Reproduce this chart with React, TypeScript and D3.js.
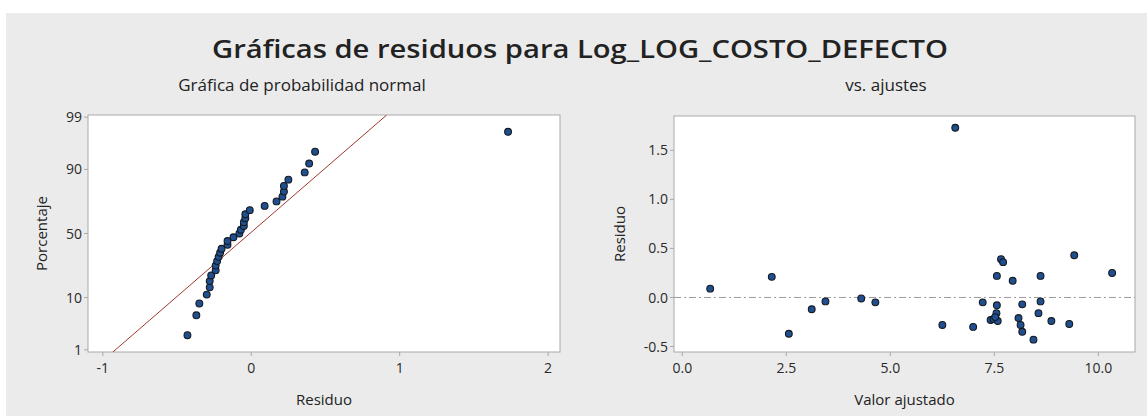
import React from "react";
import * as d3 from "d3";

// ---- Data ----
const fittedValues: number[] = [
  0.67, 2.15, 2.56, 3.11, 3.44, 4.30, 4.64, 6.56, 6.25, 6.99, 7.22,
  7.56, 7.66, 7.71, 7.56, 7.55, 7.41, 7.48, 7.58, 7.52, 7.94, 8.17,
  8.08, 8.13, 8.17, 8.44, 8.61, 8.61, 8.56, 8.87, 9.30, 9.42, 10.33,
];
const residuals: number[] = [
  0.09, 0.21, -0.37, -0.12, -0.04, -0.01, -0.05, 1.73, -0.28, -0.30, -0.05,
  0.22, 0.39, 0.36, -0.08, -0.16, -0.23, -0.22, -0.24, -0.20, 0.17, -0.07,
  -0.21, -0.28, -0.35, -0.43, 0.22, -0.04, -0.16, -0.24, -0.27, 0.43, 0.25,
];
const probTicks: number[] = [1, 10, 50, 90, 99];
const residXTicks: number[] = [-1, 0, 1, 2];
const fitXTicks: number[] = [0, 2.5, 5, 7.5, 10];
const residYTicks: number[] = [-0.5, 0, 0.5, 1, 1.5];

const TITLE = "Gráficas de residuos para Log_LOG_COSTO_DEFECTO";
const SUB_LEFT = "Gráfica de probabilidad normal";
const SUB_RIGHT = "vs. ajustes";

// inverse standard normal CDF (Acklam)
function invNorm(p: number): number {
  const a = [-39.69683028665376, 220.9460984245205, -275.9285104469687, 138.357751867269, -30.66479806614716, 2.506628277459239];
  const b = [-54.47609879822406, 161.5858368580409, -155.6989798598866, 66.80131188771972, -13.28068155288572];
  const c = [-0.007784894002430293, -0.3223964580411365, -2.400758277161838, -2.549732539343734, 4.374664141464968, 2.938163982698783];
  const d = [0.007784695709041462, 0.3224671290700398, 2.445134137142996, 3.754408661907416];
  const pl = 0.02425;
  if (p < pl) {
    const q = Math.sqrt(-2 * Math.log(p));
    return (((((c[0] * q + c[1]) * q + c[2]) * q + c[3]) * q + c[4]) * q + c[5]) / ((((d[0] * q + d[1]) * q + d[2]) * q + d[3]) * q + 1);
  }
  if (p > 1 - pl) {
    const q = Math.sqrt(-2 * Math.log(1 - p));
    return -(((((c[0] * q + c[1]) * q + c[2]) * q + c[3]) * q + c[4]) * q + c[5]) / ((((d[0] * q + d[1]) * q + d[2]) * q + d[3]) * q + 1);
  }
  const q = p - 0.5;
  const r = q * q;
  return ((((((a[0] * r + a[1]) * r + a[2]) * r + a[3]) * r + a[4]) * r + a[5]) * q) / (((((b[0] * r + b[1]) * r + b[2]) * r + b[3]) * r + b[4]) * r + 1);
}

const FONT = "'Open Sans', 'Noto Sans', sans-serif";
const fmtNum = (v: number, dec: number) => v.toFixed(dec);

export default function App() {
  const W = 1147;
  const H = 416;
  const L = { left: 88, right: 560, top: 115, bottom: 352 };
  const R = { left: 674, right: 1135, top: 116, bottom: 352 };

  const xN = d3.scaleLinear().domain([-1.1, 2.08]).range([L.left, L.right]);
  const yN = d3.scaleLinear().domain([-2.37, 2.37]).range([L.bottom, L.top]);
  const xF = d3.scaleLinear().domain([-0.2, 10.88]).range([R.left, R.right]);
  const yF = d3.scaleLinear().domain([-0.556, 1.85]).range([R.bottom, R.top]);

  const n = residuals.length;
  const sorted = residuals.slice().sort(d3.ascending);
  const probPts = sorted.map((r, i) => ({ r, z: invNorm((i + 1 - 0.3) / (n + 0.4)) }));
  const mean = d3.mean(residuals) as number;
  const sd = d3.deviation(residuals) as number;
  const [z0, z1] = yN.domain();
  const refLine = d3.line<[number, number]>()
    .x((d) => xN(d[0]))
    .y((d) => yN(d[1]))([
      [mean + sd * z0, z0],
      [mean + sd * z1, z1],
    ]);

  const ptFill = "#1f4f8f";
  const ptStroke = "#14181f";
  const tickColor = "#2a2a2a";
  const frame = "#a9a9a9";
  const tickFs = 14;
  const labFs = 15;

  return (
    <div style={{ position: "fixed", left: 0, top: 0 }}>
      <svg width={W} height={H} style={{ display: "block" }}>
        <defs>
          <clipPath id="clipL">
            <rect x={L.left} y={L.top} width={L.right - L.left} height={L.bottom - L.top} />
          </clipPath>
        </defs>
        <rect x={0} y={0} width={W} height={H} fill="#ffffff" />
        <rect x={6} y={13} width={W - 6} height={H - 13} fill="#ebebeb" />

        <text x={580} y={58} textAnchor="middle" fontFamily={FONT} fontWeight={600} fontSize={26}
          fill="#222" textLength={736} lengthAdjust="spacingAndGlyphs">{TITLE}</text>
        <text x={302} y={91} textAnchor="middle" fontFamily={FONT} fontSize={17}
          fill="#222">{SUB_LEFT}</text>
        <text x={886} y={91} textAnchor="middle" fontFamily={FONT} fontSize={17}
          fill="#222">{SUB_RIGHT}</text>

        {/* ---- Left panel: normal probability plot ---- */}
        <rect x={L.left} y={L.top} width={L.right - L.left} height={L.bottom - L.top} fill="#fff" stroke={frame} strokeWidth={1} />
        {probTicks.map((p) => {
          const y = yN(invNorm(p / 100));
          return (
            <g key={"py" + p}>
              <line x1={L.left - 4} x2={L.left} y1={y} y2={y} stroke={frame} />
              <text x={L.left - 6} y={y} dy="0.36em" textAnchor="end" fontFamily={FONT} fontSize={tickFs} fill={tickColor}>{p}</text>
            </g>
          );
        })}
        {residXTicks.map((t) => {
          const x = xN(t);
          return (
            <g key={"px" + t}>
              <line x1={x} x2={x} y1={L.bottom} y2={L.bottom + 4} stroke={frame} />
              <text x={x} y={L.bottom + 21} textAnchor="middle" fontFamily={FONT} fontSize={tickFs} fill={tickColor}>{fmtNum(t, 0)}</text>
            </g>
          );
        })}
        <path d={refLine || ""} stroke="#a0382e" strokeWidth={1} fill="none" clipPath="url(#clipL)" />
        {probPts.map((d, i) => (
          <circle key={"pp" + i} cx={xN(d.r)} cy={yN(d.z)} r={3.4} fill={ptFill} stroke={ptStroke} strokeWidth={1.1} />
        ))}
        <text x={(L.left + L.right) / 2} y={405} textAnchor="middle" fontFamily={FONT} fontSize={labFs} fill="#222">Residuo</text>
        <text transform={`translate(47,${(L.top + L.bottom) / 2}) rotate(-90)`} textAnchor="middle" fontFamily={FONT} fontSize={labFs} fill="#222">Porcentaje</text>

        {/* ---- Right panel: residuals vs fits ---- */}
        <rect x={R.left} y={R.top} width={R.right - R.left} height={R.bottom - R.top} fill="#fff" stroke={frame} strokeWidth={1} />
        {residYTicks.map((t) => {
          const y = yF(t);
          return (
            <g key={"ry" + t}>
              <line x1={R.left - 4} x2={R.left} y1={y} y2={y} stroke={frame} />
              <text x={R.left - 6} y={y} dy="0.36em" textAnchor="end" fontFamily={FONT} fontSize={tickFs} fill={tickColor}>{fmtNum(t, 1)}</text>
            </g>
          );
        })}
        {fitXTicks.map((t) => {
          const x = xF(t);
          return (
            <g key={"rx" + t}>
              <line x1={x} x2={x} y1={R.bottom} y2={R.bottom + 4} stroke={frame} />
              <text x={x} y={R.bottom + 21} textAnchor="middle" fontFamily={FONT} fontSize={tickFs} fill={tickColor}>{fmtNum(t, 1)}</text>
            </g>
          );
        })}
        <line x1={R.left} x2={R.right} y1={yF(0)} y2={yF(0)} stroke="#9a9a9a" strokeWidth={1} strokeDasharray="7,3,2,3" />
        {fittedValues.map((f, i) => (
          <circle key={"rf" + i} cx={xF(f)} cy={yF(residuals[i])} r={3.4} fill={ptFill} stroke={ptStroke} strokeWidth={1.1} />
        ))}
        <text x={(R.left + R.right) / 2} y={405} textAnchor="middle" fontFamily={FONT} fontSize={labFs} fill="#222">Valor ajustado</text>
        <text transform={`translate(625,${(R.top + R.bottom) / 2}) rotate(-90)`} textAnchor="middle" fontFamily={FONT} fontSize={labFs} fill="#222">Residuo</text>
      </svg>
    </div>
  );
}
